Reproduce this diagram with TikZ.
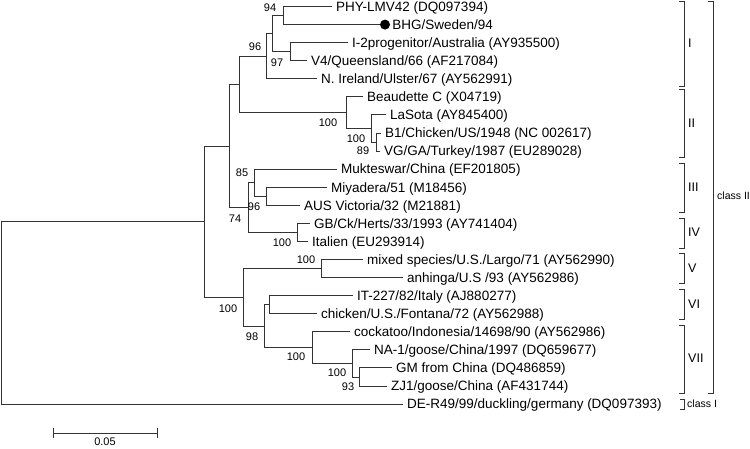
\documentclass[tikz,border=0pt]{standalone}
\usepackage{fontspec}
\setmainfont{Liberation Sans}
\tikzstyle{branch}=[line width=1pt, draw=black!80]
\tikzstyle{leaf}=[anchor=west, inner xsep=4pt, inner ysep=0pt, text height=12.5pt, text depth=2.8pt, font=\fontsize{13.5}{15}\selectfont]
\tikzstyle{boot}=[inner sep=0pt, font=\fontsize{11}{12}\selectfont]
\tikzstyle{grp}=[anchor=west, inner sep=0pt, font=\fontsize{12.5}{13}\selectfont]
\tikzstyle{cls}=[anchor=west, inner sep=0pt, font=\fontsize{10.5}{12}\selectfont]
\tikzstyle{marker}=[circle, fill=black, inner sep=0pt, minimum size=10pt]

\begin{document}
\begin{tikzpicture}[x=1pt, y=-1pt]
    \useasboundingbox (0,0) rectangle (750,448);
    \coordinate (root) at (1,312.8);
    \coordinate (n1) at (283,15.5);
    \coordinate (n2) at (290,51.6);
    \coordinate (n3) at (272,33.6);
    \coordinate (n4) at (266,56.2);
    \coordinate (n5) at (376,142);
    \coordinate (n6) at (371,128.5);
    \coordinate (n7) at (346,112.7);
    \coordinate (n8) at (239,84.5);
    \coordinate (n9) at (266,196.2);
    \coordinate (n10) at (254,182.7);
    \coordinate (n11) at (297,232.4);
    \coordinate (n12) at (248,207.5);
    \coordinate (n13) at (229,146);
    \coordinate (n14) at (321,268.5);
    \coordinate (n15) at (269,304.7);
    \coordinate (n16) at (359,377);
    \coordinate (n17) at (352,363.4);
    \coordinate (n18) at (312,347.6);
    \coordinate (n19) at (264,326.2);
    \coordinate (n20) at (243,297.3);
    \coordinate (n21) at (204,221.7);
    \node[leaf] (phy) at (332,6.5) {PHY-LMV42 (DQ097394)};
    \node[marker] (bhgdot) at (385,24.6) {};
    \node[leaf, inner xsep=2pt] (bhg) at (bhgdot.east) {BHG/Sweden/94};
    \node[leaf] (itwo) at (348,42.6) {I-2progenitor/Australia (AY935500)};
    \node[leaf] (vfour) at (307,60.7) {V4/Queensland/66 (AF217084)};
    \node[leaf] (nire) at (317,78.8) {N. Ireland/Ulster/67 (AY562991)};
    \node[leaf] (beau) at (363,96.9) {Beaudette C (X04719)};
    \node[leaf] (lasota) at (386,114.9) {LaSota (AY845400)};
    \node[leaf] (bone) at (381,133.0) {B1/Chicken/US/1948 (NC 002617)};
    \node[leaf] (vg) at (380,151.1) {VG/GA/Turkey/1987 (EU289028)};
    \node[leaf] (muk) at (337,169.1) {Mukteswar/China (EF201805)};
    \node[leaf] (miy) at (327,187.2) {Miyadera/51 (M18456)};
    \node[leaf] (aus) at (300,205.3) {AUS Victoria/32 (M21881)};
    \node[leaf] (gb) at (310,223.3) {GB/Ck/Herts/33/1993 (AY741404)};
    \node[leaf] (ital) at (308,241.4) {Italien (EU293914)};
    \node[leaf] (mixed) at (363,259.5) {mixed species/U.S./Largo/71 (AY562990)};
    \node[leaf] (anh) at (403,277.6) {anhinga/U.S /93 (AY562986)};
    \node[leaf] (italy) at (353,295.6) {IT-227/82/Italy (AJ880277)};
    \node[leaf] (chick) at (317,313.7) {chicken/U.S./Fontana/72 (AY562988)};
    \node[leaf] (cock) at (350,331.8) {cockatoo/Indonesia/14698/90 (AY562986)};
    \node[leaf] (naone) at (370,349.8) {NA-1/goose/China/1997 (DQ659677)};
    \node[leaf] (gm) at (392,367.9) {GM from China (DQ486859)};
    \node[leaf] (zj) at (387,386.0) {ZJ1/goose/China (AF431744)};
    \node[leaf] (der) at (403,404.0) {DE-R49/99/duckling/germany (DQ097393)};
    \draw[branch] (root) |- (n21);
    \draw[branch] (root) |- (der.west);
    \draw[branch] (n21) |- (n13);
    \draw[branch] (n21) |- (n20);
    \draw[branch] (n13) |- (n8);
    \draw[branch] (n13) |- (n12);
    \draw[branch] (n8) |- (n4);
    \draw[branch] (n8) |- (n7);
    \draw[branch] (n4) |- (n3);
    \draw[branch] (n4) |- (nire.west);
    \draw[branch] (n3) |- (n1);
    \draw[branch] (n3) |- (n2);
    \draw[branch] (n1) |- (phy.west);
    \draw[branch] (n1) |- (bhgdot.west);
    \draw[branch] (n2) |- (itwo.west);
    \draw[branch] (n2) |- (vfour.west);
    \draw[branch] (n7) |- (beau.west);
    \draw[branch] (n7) |- (n6);
    \draw[branch] (n6) |- (lasota.west);
    \draw[branch] (n6) |- (n5);
    \draw[branch] (n5) |- (bone.west);
    \draw[branch] (n5) |- (vg.west);
    \draw[branch] (n12) |- (n10);
    \draw[branch] (n12) |- (n11);
    \draw[branch] (n10) |- (muk.west);
    \draw[branch] (n10) |- (n9);
    \draw[branch] (n9) |- (miy.west);
    \draw[branch] (n9) |- (aus.west);
    \draw[branch] (n11) |- (gb.west);
    \draw[branch] (n11) |- (ital.west);
    \draw[branch] (n20) |- (n14);
    \draw[branch] (n20) |- (n19);
    \draw[branch] (n14) |- (mixed.west);
    \draw[branch] (n14) |- (anh.west);
    \draw[branch] (n19) |- (n15);
    \draw[branch] (n19) |- (n18);
    \draw[branch] (n15) |- (italy.west);
    \draw[branch] (n15) |- (chick.west);
    \draw[branch] (n18) |- (cock.west);
    \draw[branch] (n18) |- (n17);
    \draw[branch] (n17) |- (naone.west);
    \draw[branch] (n17) |- (n16);
    \draw[branch] (n16) |- (gm.west);
    \draw[branch] (n16) |- (zj.west);
    \node[boot] (b1) at (270,7.5) {94};
    \node[boot] (b2) at (255,47) {96};
    \node[boot] (b3) at (277,63) {97};
    \node[boot] (b4) at (328,123) {100};
    \node[boot] (b5) at (356,139) {100};
    \node[boot] (b6) at (363,151) {89};
    \node[boot] (b7) at (242,173) {85};
    \node[boot] (b8) at (254,207) {96};
    \node[boot] (b9) at (235,219) {74};
    \node[boot] (b10) at (282,243) {100};
    \node[boot] (b11) at (306,260) {100};
    \node[boot] (b12) at (228,309) {100};
    \node[boot] (b13) at (252,337) {98};
    \node[boot] (b14) at (296,357) {100};
    \node[boot] (b15) at (337,373) {100};
    \node[boot] (b16) at (348,387) {93};
    \draw[branch] (679,1) -- (684,1) -- (684,86) -- (679,86);
    \draw[branch] (679,89) -- (684,89) -- (684,157) -- (679,157);
    \draw[branch] (679,163) -- (684,163) -- (684,212) -- (679,212);
    \draw[branch] (679,218) -- (684,218) -- (684,248) -- (679,248);
    \draw[branch] (679,253) -- (684,253) -- (684,283) -- (679,283);
    \draw[branch] (679,289) -- (684,289) -- (684,319) -- (679,319);
    \draw[branch] (679,325) -- (684,325) -- (684,393) -- (679,393);
    \draw[branch] (680,399) -- (684,399) -- (684,409) -- (680,409);
    \draw[branch] (708,1) -- (713,1) -- (713,393) -- (708,393);
    \node[grp] (gI) at (688,43) {I};
    \node[grp] (gII) at (688,123) {II};
    \node[grp] (gIII) at (688,187) {III};
    \node[grp] (gIV) at (688,232) {IV};
    \node[grp] (gV) at (688,268) {V};
    \node[grp] (gVI) at (688,304) {VI};
    \node[grp] (gVII) at (688,358) {VII};
    \node[cls] (clsI) at (687,404) {class I};
    \node[cls] (clsII) at (717,196) {class II};
    \draw[branch] (53,428) -- (53,438);
    \draw[branch] (157,428) -- (157,438);
    \draw[branch] (53,433) -- (157,433);
    \node[boot] (scale) at (105,441.5) {0.05};
\end{tikzpicture}
\end{document}
